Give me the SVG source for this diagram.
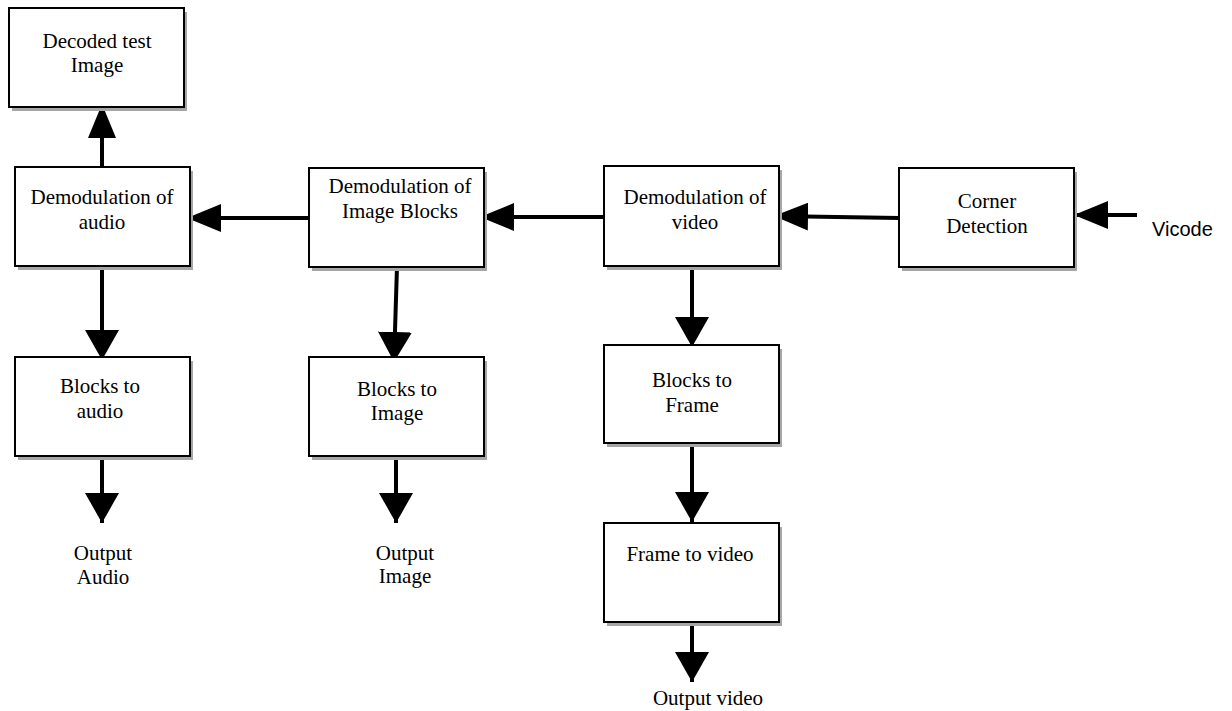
<svg xmlns="http://www.w3.org/2000/svg" width="1232" height="711" viewBox="0 0 1232 711">
<style>
.sh{fill:#a6a6a6;stroke:none}
.bx{fill:#fff;stroke:#000;stroke-width:2}
.t{font-family:"Liberation Serif","Times New Roman",serif;font-size:21px;fill:#000;text-anchor:middle}
.s{font-family:"Liberation Sans",Arial,sans-serif;font-size:20px;fill:#000}
.c{stroke:#000;stroke-width:4;fill:none}
.h{marker-end:url(#arrH)}
.v{marker-end:url(#arrV)}
</style>
<defs>
<marker id="arrH" markerUnits="userSpaceOnUse" markerWidth="34" markerHeight="28" refX="34" refY="14" orient="auto" viewBox="0 0 34 28"><path d="M0,0 L34,14 L0,28 z" fill="#000"/></marker>
<marker id="arrV" markerUnits="userSpaceOnUse" markerWidth="30" markerHeight="34" refX="30" refY="17" orient="auto" viewBox="0 0 30 34"><path d="M0,0 L30,17 L0,34 z" fill="#000"/></marker>
</defs>
<rect width="1232" height="711" fill="#fff"/>
<g id="connectors">
<line class="c h" x1="102" y1="167" x2="102" y2="104"/>
<line class="c h" x1="309" y1="218" x2="187" y2="218"/>
<line class="c h" x1="604" y1="217" x2="480" y2="217"/>
<line class="c h" x1="899" y1="218" x2="774" y2="216"/>
<line class="c h" x1="1137" y1="215" x2="1074" y2="215"/>
<line class="c v" x1="102" y1="266" x2="102" y2="360"/>
<line class="c v" x1="102" y1="456" x2="102" y2="523"/>
<line class="c v" x1="397" y1="267" x2="394" y2="362"/>
<line class="c v" x1="396" y1="456" x2="396" y2="523"/>
<line class="c v" x1="692" y1="266" x2="692" y2="347"/>
<line class="c v" x1="692" y1="443" x2="692" y2="522"/>
<line class="c v" x1="692" y1="622" x2="692" y2="682"/>
</g>
<g id="decoded-test-image">
<rect class="sh" x="12" y="12" width="175" height="99"/>
<rect class="bx" x="9" y="8" width="175" height="99"/>
<text class="t" x="97" y="48">Decoded test</text>
<text class="t" x="97" y="72">Image</text>
</g>
<g id="demod-audio">
<rect class="sh" x="18" y="171" width="175" height="99"/>
<rect class="bx" x="15" y="167" width="175" height="99"/>
<text class="t" x="102" y="204">Demodulation of</text>
<text class="t" x="102" y="229">audio</text>
</g>
<g id="demod-image-blocks">
<rect class="sh" x="312" y="172" width="175" height="99"/>
<rect class="bx" x="309" y="168" width="175" height="99"/>
<text class="t" x="400" y="193">Demodulation of</text>
<text class="t" x="400" y="218">Image Blocks</text>
</g>
<g id="demod-video">
<rect class="sh" x="607" y="170" width="175" height="100"/>
<rect class="bx" x="604" y="166" width="175" height="100"/>
<text class="t" x="695" y="204">Demodulation of</text>
<text class="t" x="695" y="229">video</text>
</g>
<g id="corner-detection">
<rect class="sh" x="902" y="172" width="175" height="99"/>
<rect class="bx" x="899" y="168" width="175" height="99"/>
<text class="t" x="987" y="208">Corner</text>
<text class="t" x="987" y="233">Detection</text>
</g>
<g id="vicode">
<text class="s" x="1152" y="236">Vicode</text>
</g>
<g id="blocks-to-audio">
<rect class="sh" x="18" y="361" width="175" height="99"/>
<rect class="bx" x="15" y="357" width="175" height="99"/>
<text class="t" x="100" y="393">Blocks to</text>
<text class="t" x="100" y="418">audio</text>
</g>
<g id="blocks-to-image">
<rect class="sh" x="312" y="361" width="175" height="99"/>
<rect class="bx" x="309" y="357" width="175" height="99"/>
<text class="t" x="397" y="396">Blocks to</text>
<text class="t" x="397" y="420">Image</text>
</g>
<g id="blocks-to-frame">
<rect class="sh" x="607" y="349" width="175" height="98"/>
<rect class="bx" x="604" y="345" width="175" height="98"/>
<text class="t" x="692" y="387">Blocks to</text>
<text class="t" x="692" y="412">Frame</text>
</g>
<g id="frame-to-video">
<rect class="sh" x="607" y="527" width="175" height="99"/>
<rect class="bx" x="604" y="523" width="175" height="99"/>
<text class="t" x="690" y="561">Frame to video</text>
</g>
<g id="output-audio">
<text class="t" x="103" y="560">Output</text>
<text class="t" x="103" y="584">Audio</text>
</g>
<g id="output-image">
<text class="t" x="405" y="560">Output</text>
<text class="t" x="405" y="583">Image</text>
</g>
<g id="output-video">
<text class="t" x="708" y="705">Output video</text>
</g>
</svg>
